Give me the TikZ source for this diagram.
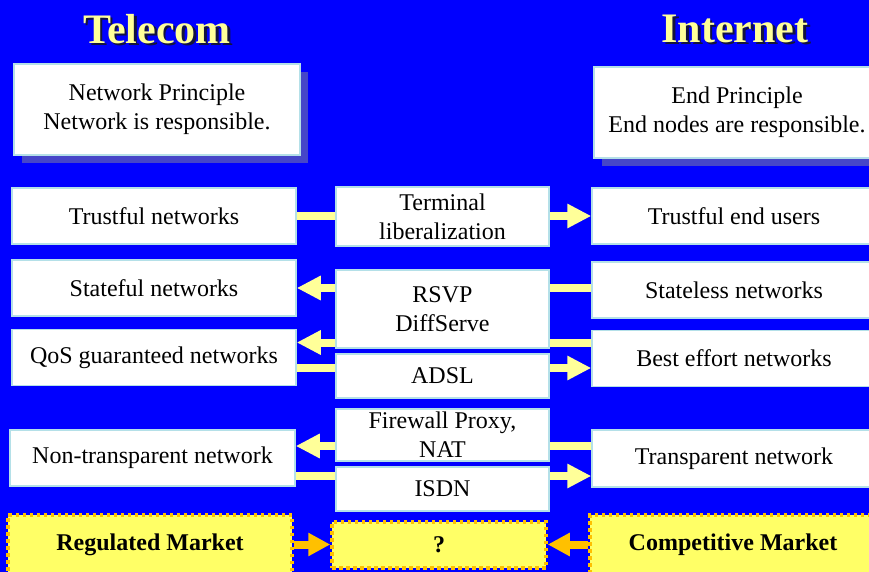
\documentclass[tikz,border=0pt]{standalone}
\usepackage{fontspec}
\setmainfont{Liberation Serif}
\usetikzlibrary{shapes,arrows.meta,calc,shadows}
\definecolor{slideblue}{RGB}{0,0,255}
\definecolor{paleyellow}{RGB}{255,255,153}
\definecolor{boxedge}{RGB}{180,224,232}
\definecolor{boxshadow}{RGB}{70,70,200}
\definecolor{titleshadow}{RGB}{20,20,60}
\definecolor{marketfill}{RGB}{255,255,102}
\definecolor{marketedge}{RGB}{255,192,0}
\newcommand{\shadowed}[1]{\rlap{\kern2.5pt\raisebox{-2.5pt}{\color{titleshadow}#1}}#1}
\tikzstyle{block} = [draw=boxedge, fill=white, line width=1.5pt, rectangle, align=center, inner sep=0pt, font=\fontsize{24}{29}\selectfont]
\tikzstyle{principle} = [block, minimum width=286pt, minimum height=91pt, drop shadow={shadow xshift=8pt, shadow yshift=-8pt, fill=boxshadow, opacity=1}]
\tikzstyle{sidebox} = [block, minimum width=284pt, minimum height=56pt]
\tikzstyle{midbox} = [block, minimum width=213pt]
\tikzstyle{market} = [draw=marketedge, fill=marketfill, line width=3.5pt, dash pattern=on 3.5pt off 3.5pt, rectangle, align=center, inner sep=0pt, font=\fontsize{24}{29}\selectfont\bfseries]
\tikzstyle{heading} = [text=paleyellow, font=\fontsize{42}{48}\selectfont\bfseries]
\tikzstyle{line} = [draw=paleyellow, line width=8pt]
\tikzstyle{yarrow} = [line, -{Triangle[length=24pt, width=23pt]}]
\tikzstyle{marketarrow} = [draw=marketedge, line width=8pt, -{Triangle[length=22pt, width=22pt]}]

\begin{document}
\begin{tikzpicture}[x=1pt, y=-1pt]
        \useasboundingbox (0,0) rectangle (869,572);
        \fill[slideblue] (0,0) rectangle (869,572);
        \node[heading] (tel) at (157,30) {\shadowed{Telecom}};
        \node[heading] (inet) at (735,30) {\shadowed{Internet}};
        \node[principle] (net) at (157,109.5) {Network Principle\\Network is responsible.};
        \node[principle] (endp) at (737,112.5) {End Principle\\End nodes are responsible.};
        \node[sidebox] (trust) at (154,216) {Trustful networks};
        \node[sidebox] (statef) at (154,288) {Stateful networks};
        \node[sidebox] (qos) at (154,357.5) {QoS guaranteed networks};
        \node[sidebox, minimum width=285pt] (nontr) at (152.5,458) {Non-transparent network};
        \node[midbox, minimum height=59pt] (term) at (442.5,216.5) {Terminal\\liberalization};
        \node[midbox, minimum height=78pt] (rsvp) at (442.5,309) {RSVP\\DiffServe};
        \node[midbox, minimum height=44pt] (adsl) at (442.5,376) {ADSL};
        \node[midbox, minimum height=52pt] (fw) at (442.5,435) {Firewall Proxy,\\NAT};
        \node[midbox, minimum height=44pt] (isdn) at (442.5,489) {ISDN};
        \node[sidebox] (tend) at (734,216) {Trustful end users};
        \node[sidebox] (statel) at (734,290) {Stateless networks};
        \node[sidebox] (best) at (734,358.5) {Best effort networks};
        \node[sidebox, minimum height=57pt] (transp) at (734,458.5) {Transparent network};
        \node[market, minimum width=284pt, minimum height=59pt] (reg) at (150,544.5) {Regulated Market};
        \node[market, minimum width=214pt, minimum height=46pt] (quest) at (439,545) {?};
        \node[market, minimum width=286pt, minimum height=59pt] (comp) at (733,544.5) {Competitive Market};
        \coordinate (qosin) at ([yshift=15pt]qos.east);
        \coordinate (qosout) at ([yshift=-10.5pt]qos.east);
        \coordinate (ntin) at ([yshift=12pt]nontr.east);
        \coordinate (ntout) at ([yshift=-18pt]nontr.east);
        \path[line] (trust.east) -- (term.west |- trust.east);
        \path[yarrow] (term.east |- trust.east) -- (tend.west |- trust.east);
        \path[line] (statel.west |- statef) -- (rsvp.east |- statef);
        \path[yarrow] (rsvp.west |- statef) -- (statef.east);
        \path[line] (best.west |- qosin) -- (rsvp.east |- qosin);
        \path[yarrow] (rsvp.west |- qosin) -- (qosin);
        \path[line] (qosout) -- (adsl.west |- qosout);
        \path[yarrow] (adsl.east |- qosout) -- (best.west |- qosout);
        \path[line] (transp.west |- ntin) -- (fw.east |- ntin);
        \path[yarrow] (fw.west |- ntin) -- (ntin);
        \path[line] (ntout) -- (isdn.west |- ntout);
        \path[yarrow] (isdn.east |- ntout) -- (transp.west |- ntout);
        \path[marketarrow] (reg.east) -- (quest.west |- reg.east);
        \path[marketarrow] (comp.west) -- (quest.east |- comp.west);
    \end{tikzpicture}
\end{document}
